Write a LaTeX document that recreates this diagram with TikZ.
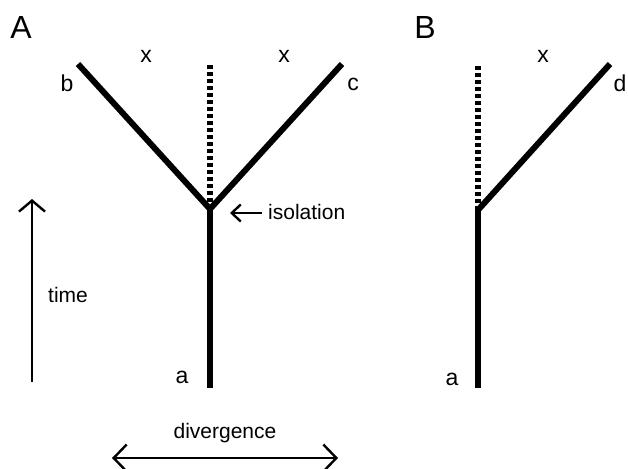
\documentclass[tikz,border=0pt]{standalone}
\usepackage{fontspec}
\setmainfont{Liberation Sans}
\usetikzlibrary{arrows.meta}
\begin{document}
\begin{tikzpicture}[x=1pt,y=-1pt,
  branch/.style={line width=6pt},
  ghost/.style={line width=6pt,dash pattern=on 4pt off 3pt},
  thin/.style={line width=2.4pt},
  lbl/.style={font=\fontsize{21}{24}\selectfont,inner sep=0pt},
  let/.style={font=\fontsize{23}{26}\selectfont,inner sep=0pt},
  big/.style={font=\fontsize{32}{36}\selectfont,inner sep=0pt}]
\useasboundingbox (0,0) rectangle (628,468);
% panel labels
\node[big] (A) at (21,27) {A};
\node[big] (B) at (425,27) {B};
% tree A
\coordinate (aj) at (210,209);
\coordinate (ab) at (210,388);
\coordinate (bt) at (78,64);
\coordinate (ct) at (342,64);
\coordinate (dt) at (210,64);
\draw[ghost] (aj) -- (dt);
\draw[branch] (ab) -- (aj);
\draw[branch,line cap=butt] (bt) -- (aj) -- (ct);
\node[let] (xa1) at (146,56) {x};
\node[let] (xa2) at (284,56) {x};
\node[let] (lb) at (67,83) {b};
\node[let] (lc) at (353,84) {c};
\node[let] (la) at (182,377) {a};
\node[lbl,anchor=west] (iso) at (268,212) {isolation};
\coordinate (isoe) at (230,213);
\draw[thin,-{Straight Barb[length=9pt,width=17pt,line width=2.4pt]}] (iso.west) ++(-6,1) coordinate (isos) (isos) -- (isoe);
% time arrow
\coordinate (t0) at (32,382);
\coordinate (t1) at (32,199);
\draw[thin,-{Straight Barb[length=11pt,width=26pt,line width=2.4pt]}] (t0) -- (t1);
\node[lbl,anchor=west] (time) at (48,295) {time};
% divergence
\coordinate (d0) at (112,458);
\coordinate (d1) at (338,458);
\draw[thin,{Straight Barb[length=13pt,width=27pt,line width=2.4pt]}-{Straight Barb[length=13pt,width=27pt,line width=2.4pt]}] (d0) -- (d1);
\node[lbl] (div) at (225,433) {divergence};
% tree B
\coordinate (bj) at (478,210);
\coordinate (bb) at (478,388);
\coordinate (bd) at (478,64);
\coordinate (dtop) at (610,64);
\draw[ghost] (bj) -- (bd);
\draw[branch] (bb) -- (bj);
\draw[branch] (bj) -- (dtop);
\node[let] (xb) at (543,56) {x};
\node[let] (ld) at (620,83) {d};
\node[let] (lab) at (452,379) {a};
\end{tikzpicture}
\end{document}
